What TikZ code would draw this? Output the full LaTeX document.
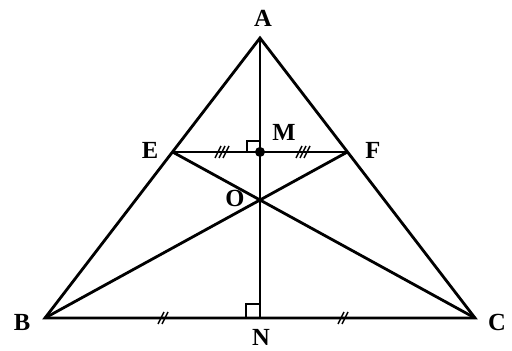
\documentclass[tikz,border=0pt]{standalone}
\usepackage{fontspec}
\setmainfont{Liberation Serif}
\usetikzlibrary{calc}

\tikzset{
  seg/.style={line width=1.6pt},
  lbl/.style={font=\fontsize{14}{16}\selectfont\bfseries, inner sep=0pt},
  tick/.style={line width=0.8pt}
}

\begin{document}
\begin{tikzpicture}[x=0.02cm,y=0.02cm]
  \useasboundingbox (0,0) rectangle (512,351);
  % vertices
  \coordinate (A) at (260,313);
  \coordinate (B) at (45,33);
  \coordinate (C) at (475,33);
  \coordinate (N) at (260,33);
  \coordinate (E) at ($(A)!0.407!(B)$);
  \coordinate (F) at ($(A)!0.407!(C)$);
  \coordinate (M) at ($(E)!0.5!(F)$);
  \coordinate (O) at (intersection of B--F and C--E);
  % triangle and segments
  \draw[seg,line join=miter] (A) -- (B) -- (C) -- cycle;
  \draw[seg] (A) -- (N);
  \draw[seg] (E) -- (F);
  \draw[seg] (B) -- (F);
  \draw[seg] (C) -- (E);
  % right angles
  \draw[line width=1pt] ($(M)+(-13,0)$) -- ++(0,11) -- ++(13,0);
  \draw[line width=1pt] ($(N)+(-14,0)$) -- ++(0,14) -- ++(14,0);
  \fill (M) circle (5);
  % equal marks
  \foreach \p in {222,303}
    \foreach \d in {-4,0,4}
      \draw[tick] ($(\p,{313-0.407*280})+(\d-3,-6)$) -- ++(6,12);
  \foreach \p in {163,343}
    \foreach \d in {-2,2}
      \draw[tick] ($(\p,33)+(\d-3,-6)$) -- ++(6,12);
  % labels
  \node[lbl] (lA) at (263,333) {A};
  \node[lbl] (lB) at (22,29) {B};
  \node[lbl] (lC) at (497,29) {C};
  \node[lbl] (lN) at (261,14) {N};
  \node[lbl] (lE) at (150,201) {E};
  \node[lbl] (lF) at (373,201) {F};
  \node[lbl] (lM) at (284,219) {M};
  \node[lbl] (lO) at (235,153) {O};
\end{tikzpicture}
\end{document}
